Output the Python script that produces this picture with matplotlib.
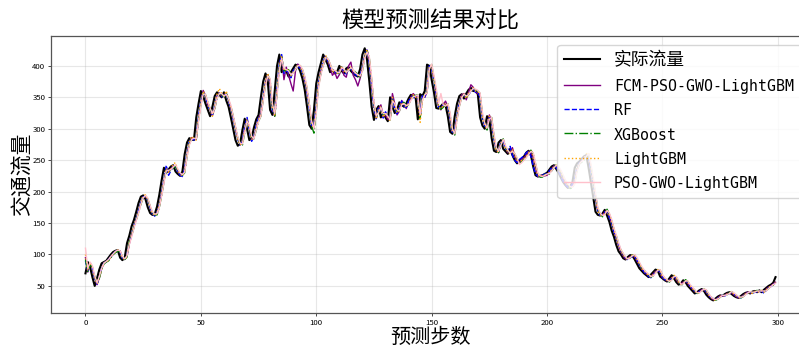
import matplotlib
matplotlib.use("Agg")
import matplotlib.pyplot as plt
from matplotlib import font_manager
import numpy as np

# 实际流量
actual = [
    70, 88, 80, 64, 50, 62, 76, 86, 88, 90, 95, 100, 104, 106, 107, 95, 91, 95, 118, 130,
    145, 155, 168, 182, 192, 194, 188, 175, 166, 163, 164, 176, 195, 218, 238, 230, 235, 240, 242, 232,
    228, 225, 232, 260, 278, 285, 283, 282, 318, 340, 360, 352, 340, 330, 320, 335, 352, 358, 354, 350,
    358, 345, 335, 318, 300, 282, 273, 276, 298, 316, 300, 282, 285, 302, 315, 322, 350, 375, 388, 375,
    330, 322, 360, 400, 418, 390, 395, 392, 383, 390, 396, 402, 400, 392, 380, 362, 335, 306, 300, 330,
    372, 390, 404, 418, 410, 402, 390, 394, 388, 390, 400, 392, 388, 396, 398, 392, 388, 385, 383, 395,
    418, 428, 410, 375, 335, 314, 330, 336, 318, 325, 318, 312, 350, 335, 325, 330, 342, 338, 335, 340,
    348, 354, 350, 352, 315, 355, 352, 360, 402, 400, 378, 358, 333, 332, 336, 340, 338, 320, 295, 292,
    320, 340, 352, 355, 348, 356, 362, 365, 360, 360, 355, 318, 305, 300, 320, 315, 285, 265, 263, 278,
    282, 268, 264, 260, 268, 258, 250, 245, 250, 252, 256, 262, 265, 258, 240, 226, 224, 225, 226, 228,
    230, 235, 240, 242, 236, 230, 222, 215, 210, 206, 208, 215, 238, 245, 248, 252, 256, 258, 238, 215,
    192, 168, 163, 162, 165, 171, 162, 152, 138, 128, 115, 105, 100, 94, 92, 96, 99, 98, 92, 85,
    78, 74, 70, 67, 64, 68, 72, 76, 74, 65, 62, 59, 57, 62, 67, 62, 56, 52, 54, 59,
    56, 50, 46, 42, 38, 40, 43, 45, 42, 36, 32, 29, 27, 30, 33, 35, 34, 37, 39, 40,
    37, 34, 32, 31, 34, 37, 39, 40, 38, 41, 42, 40, 43, 40, 44, 47, 50, 52, 55, 64,
]

fcm_pso_gwo = [
    95, 72, 86, 79, 63, 52, 63, 77, 86, 88, 91, 96, 100, 104, 106, 106, 95, 92, 97, 117,
    131, 144, 156, 169, 181, 191, 193, 187, 176, 166, 162, 165, 177, 196, 217, 236, 231, 236, 241, 240,
    233, 227, 226, 234, 258, 277, 286, 284, 283, 316, 341, 361, 353, 338, 331, 321, 333, 352, 357, 352,
    351, 357, 346, 333, 318, 301, 284, 275, 278, 299, 315, 302, 283, 286, 301, 316, 324, 348, 374, 386,
    372, 332, 320, 358, 398, 415, 378, 398, 385, 372, 360, 392, 403, 398, 393, 378, 360, 338, 308, 302,
    332, 370, 392, 402, 415, 408, 398, 385, 390, 380, 386, 398, 385, 382, 400, 406, 385, 378, 368, 380,
    396, 415, 425, 408, 372, 338, 318, 332, 338, 320, 322, 315, 315, 356, 340, 322, 328, 345, 340, 332,
    342, 350, 356, 352, 350, 318, 352, 350, 358, 398, 398, 380, 355, 336, 330, 338, 344, 336, 318, 296,
    294, 318, 338, 354, 356, 346, 358, 370, 366, 358, 356, 352, 320, 306, 302, 322, 312, 286, 266, 262,
    276, 283, 270, 262, 262, 270, 256, 248, 246, 252, 254, 258, 264, 262, 255, 238, 224, 225, 226, 225,
    226, 231, 236, 241, 240, 234, 228, 220, 214, 209, 207, 210, 218, 236, 244, 249, 254, 257, 256, 236,
    214, 190, 170, 164, 163, 167, 170, 160, 150, 137, 126, 114, 104, 98, 93, 93, 97, 98, 96, 90,
    84, 77, 73, 69, 66, 65, 69, 73, 75, 72, 63, 61, 58, 59, 63, 66, 60, 55, 53, 56,
    58, 54, 49, 45, 41, 39, 41, 44, 44, 40, 35, 31, 28, 28, 31, 34, 34, 35, 38, 38,
    39, 36, 33, 31, 32, 35, 38, 40, 39, 39, 42, 41, 41, 42, 41, 45, 48, 50, 53, 56,
]

rf = [
    90, 74, 85, 78, 62, 53, 64, 78, 87, 89, 92, 97, 101, 105, 106, 104, 94, 93, 99, 118,
    132, 146, 157, 170, 183, 192, 192, 186, 174, 165, 161, 166, 178, 197, 218, 242, 226, 233, 240, 241,
    231, 226, 224, 236, 261, 280, 284, 282, 284, 320, 342, 358, 350, 339, 328, 322, 336, 350, 356, 351,
    352, 356, 344, 334, 316, 299, 283, 274, 279, 302, 318, 298, 280, 287, 305, 318, 321, 352, 372, 384,
    376, 328, 324, 362, 402, 418, 388, 392, 390, 381, 392, 398, 400, 396, 390, 382, 360, 333, 305, 304,
    335, 374, 388, 406, 416, 408, 400, 392, 392, 386, 391, 398, 390, 387, 394, 396, 390, 386, 383, 386,
    398, 416, 426, 405, 370, 332, 316, 334, 334, 317, 327, 320, 316, 348, 332, 324, 333, 344, 336, 334,
    344, 350, 352, 348, 351, 320, 354, 350, 362, 400, 396, 376, 356, 334, 333, 338, 338, 335, 318, 294,
    296, 322, 342, 350, 353, 350, 354, 360, 364, 358, 358, 350, 316, 304, 302, 318, 314, 283, 267, 264,
    280, 280, 268, 266, 272, 258, 250, 246, 251, 254, 257, 262, 264, 256, 240, 228, 225, 224, 226, 228,
    229, 233, 238, 240, 238, 232, 224, 216, 211, 207, 206, 212, 220, 238, 246, 250, 254, 256, 255, 234,
    212, 192, 168, 162, 164, 168, 169, 158, 150, 136, 127, 116, 106, 99, 95, 91, 95, 97, 97, 91,
    83, 79, 72, 69, 65, 63, 67, 72, 74, 73, 64, 60, 58, 58, 62, 65, 62, 57, 52, 55,
    58, 55, 50, 45, 42, 37, 41, 43, 44, 41, 35, 32, 30, 28, 30, 33, 35, 34, 36, 38,
    40, 37, 34, 32, 31, 34, 36, 39, 40, 38, 40, 41, 40, 42, 38, 43, 47, 49, 52, 54,
]

xgb = [
    92, 73, 84, 80, 65, 54, 62, 76, 85, 88, 90, 95, 100, 103, 105, 105, 96, 92, 96, 120,
    130, 143, 155, 167, 180, 190, 193, 188, 177, 167, 163, 163, 175, 194, 215, 234, 232, 234, 238, 240,
    234, 229, 226, 230, 256, 276, 284, 285, 283, 315, 338, 356, 354, 342, 332, 323, 332, 348, 356, 355,
    349, 356, 347, 336, 320, 302, 285, 276, 274, 294, 312, 303, 285, 284, 298, 312, 320, 346, 370, 385,
    378, 335, 320, 356, 396, 414, 392, 393, 394, 385, 388, 394, 400, 401, 394, 382, 364, 338, 304, 293,
    328, 368, 388, 400, 414, 412, 403, 392, 392, 390, 388, 398, 394, 390, 394, 397, 394, 390, 387, 382,
    392, 414, 424, 412, 378, 340, 318, 328, 334, 322, 324, 320, 314, 346, 338, 328, 328, 340, 342, 336,
    338, 346, 352, 353, 354, 316, 350, 354, 358, 398, 402, 380, 360, 336, 331, 334, 338, 340, 322, 298,
    290, 316, 336, 350, 356, 350, 354, 360, 363, 362, 360, 356, 322, 308, 298, 316, 318, 288, 268, 262,
    275, 284, 270, 265, 260, 265, 260, 252, 244, 248, 251, 255, 260, 266, 260, 244, 228, 223, 223, 227,
    228, 228, 233, 238, 243, 238, 232, 224, 217, 212, 205, 206, 214, 234, 244, 247, 250, 255, 258, 240,
    218, 195, 172, 165, 160, 163, 172, 164, 154, 140, 130, 117, 107, 101, 95, 92, 95, 99, 99, 93,
    86, 79, 75, 71, 68, 64, 66, 71, 76, 75, 67, 62, 60, 56, 60, 67, 64, 57, 51, 53,
    60, 57, 51, 47, 43, 38, 39, 42, 45, 43, 37, 33, 29, 27, 29, 32, 35, 35, 36, 39,
    41, 38, 35, 33, 31, 33, 37, 38, 41, 39, 41, 43, 41, 43, 41, 43, 46, 50, 51, 55,
]

lgbm = [
    100, 74, 87, 80, 64, 53, 64, 77, 87, 88, 91, 96, 101, 104, 107, 105, 95, 92, 97, 118,
    131, 146, 156, 168, 182, 193, 195, 187, 175, 165, 162, 166, 178, 196, 216, 237, 231, 236, 244, 246,
    234, 228, 225, 233, 259, 279, 288, 284, 282, 317, 340, 360, 352, 340, 330, 320, 334, 355, 364, 356,
    352, 360, 346, 334, 318, 300, 283, 274, 277, 298, 315, 301, 283, 285, 302, 315, 322, 349, 375, 388,
    376, 332, 322, 360, 398, 416, 392, 396, 392, 384, 390, 396, 402, 400, 392, 380, 362, 336, 307, 301,
    330, 372, 390, 404, 417, 410, 402, 390, 394, 388, 390, 400, 392, 388, 396, 398, 392, 388, 385, 383,
    395, 417, 426, 410, 375, 336, 315, 330, 336, 318, 325, 318, 312, 350, 335, 325, 330, 342, 338, 335,
    340, 348, 354, 350, 352, 310, 345, 352, 360, 400, 400, 378, 358, 334, 332, 336, 340, 338, 320, 296,
    293, 320, 340, 352, 355, 348, 356, 362, 365, 360, 360, 355, 318, 305, 300, 320, 315, 285, 265, 263,
    278, 282, 268, 264, 260, 268, 258, 250, 245, 250, 252, 256, 262, 265, 258, 240, 226, 224, 225, 226,
    228, 230, 235, 240, 242, 236, 230, 222, 215, 210, 206, 208, 215, 238, 245, 248, 254, 260, 262, 240,
    215, 192, 168, 163, 162, 165, 171, 162, 152, 138, 128, 115, 105, 100, 94, 92, 96, 99, 98, 92,
    85, 78, 74, 70, 67, 64, 68, 72, 76, 74, 65, 62, 59, 57, 62, 67, 62, 56, 52, 54,
    59, 56, 50, 46, 42, 38, 40, 43, 45, 42, 36, 32, 29, 27, 30, 33, 35, 34, 37, 39,
    40, 37, 34, 32, 31, 34, 37, 39, 40, 38, 41, 42, 40, 43, 40, 44, 47, 50, 52, 55,
]

pso_gwo = [
    110, 78, 88, 82, 66, 55, 65, 78, 86, 89, 92, 97, 101, 105, 107, 106, 97, 93, 98, 116,
    128, 142, 154, 166, 180, 190, 194, 190, 178, 168, 164, 165, 175, 193, 214, 233, 234, 235, 239, 243,
    236, 230, 227, 231, 255, 274, 283, 285, 284, 312, 336, 355, 355, 343, 333, 324, 332, 348, 356, 356,
    352, 355, 348, 337, 321, 304, 287, 277, 276, 294, 312, 306, 288, 284, 298, 312, 320, 344, 368, 384,
    380, 340, 324, 352, 392, 412, 396, 394, 392, 386, 388, 394, 400, 401, 395, 384, 366, 340, 312, 300,
    325, 365, 386, 400, 413, 412, 404, 393, 393, 390, 389, 397, 395, 390, 393, 397, 394, 389, 386, 384,
    392, 412, 422, 414, 382, 342, 320, 326, 334, 324, 324, 320, 314, 344, 340, 330, 328, 338, 340, 337,
    338, 345, 351, 352, 354, 322, 346, 354, 357, 395, 403, 385, 364, 340, 356, 338, 336, 340, 326, 300,
    292, 314, 335, 349, 355, 352, 354, 360, 364, 363, 361, 357, 326, 309, 301, 315, 318, 292, 270, 264,
    274, 283, 273, 266, 261, 264, 261, 254, 243, 246, 250, 254, 259, 264, 262, 246, 230, 225, 224, 226,
    228, 229, 233, 238, 242, 240, 234, 226, 218, 213, 208, 207, 212, 232, 244, 248, 251, 256, 260, 244,
    222, 198, 175, 166, 162, 163, 170, 166, 156, 142, 131, 119, 108, 102, 96, 93, 95, 98, 100, 95,
    88, 81, 76, 72, 69, 65, 66, 70, 75, 76, 68, 63, 60, 57, 59, 65, 65, 59, 53, 53,
    58, 58, 52, 48, 44, 39, 39, 42, 45, 44, 38, 33, 30, 28, 29, 32, 35, 35, 36, 38,
    41, 39, 36, 33, 32, 33, 36, 39, 41, 40, 40, 42, 42, 42, 42, 42, 46, 49, 52, 54,
]

steps = np.arange(len(actual))

names = {f.name for f in font_manager.fontManager.ttflist}
cjk = "Noto Sans Mono CJK SC" if "Noto Sans Mono CJK SC" in names else "Noto Sans CJK SC"
plt.rcParams["font.family"] = [cjk, "DejaVu Sans"]
plt.rcParams["axes.unicode_minus"] = False

fig = plt.figure(figsize=(7.99, 3.46), dpi=100)
ax = fig.add_axes([0.0638, 0.0954, 0.95, 0.8015])

ax.plot(steps, actual, color="black", linewidth=1.5, label="实际流量")
ax.plot(steps, fcm_pso_gwo, color="purple", linewidth=1.0, label="FCM-PSO-GWO-LightGBM")
ax.plot(steps, rf, color="blue", linestyle="--", linewidth=1.0, label="RF")
ax.plot(steps, xgb, color="green", linestyle="-.", linewidth=1.0, label="XGBoost")
ax.plot(steps, lgbm, color="orange", linestyle=":", linewidth=1.0, label="LightGBM")
ax.plot(steps, pso_gwo, color="pink", linewidth=1.0, label="PSO-GWO-LightGBM")

ax.set_title("模型预测结果对比", fontsize=16)
ax.set_xlabel("预测步数", fontsize=14.5, labelpad=0)
ax.set_ylabel("交通流量", fontsize=15, labelpad=-1)
ax.tick_params(labelsize=5.6, length=2, width=0.5, pad=2)
ax.grid(alpha=0.3)
for sp in ax.spines.values():
    sp.set_color("#555555")
    sp.set_linewidth(0.9)

leg = ax.legend(loc="upper right", fontsize=12.8, framealpha=0.8, labelspacing=0.5)
# latin labels in a monospace face, like the half-width glyphs of the original
for t in leg.get_texts():
    if t.get_text().isascii():
        t.set_fontfamily("DejaVu Sans Mono")
        t.set_fontsize(10.7)

fig.savefig("out.png", dpi=100)
